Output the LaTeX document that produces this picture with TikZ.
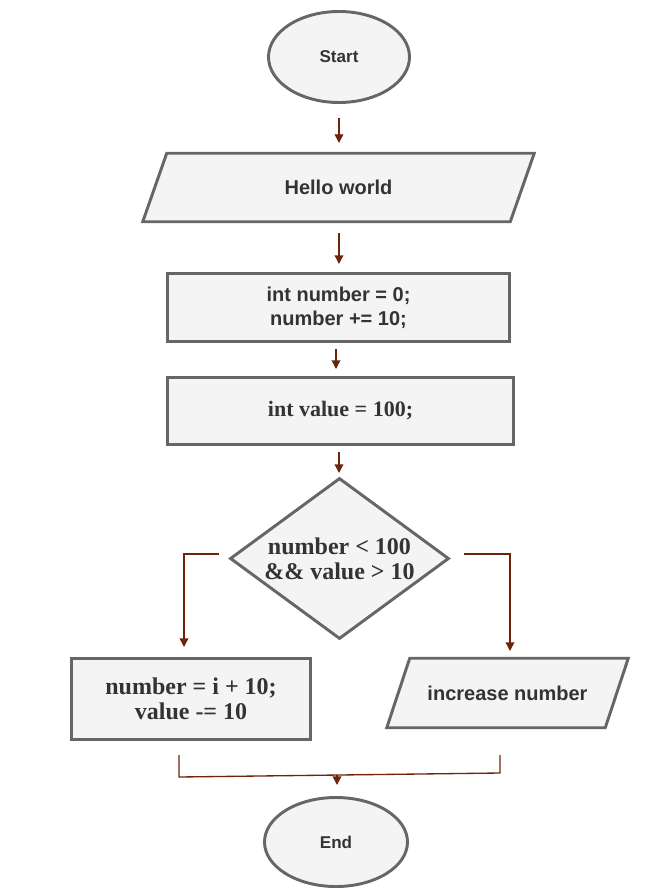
\documentclass[tikz,border=0pt]{standalone}
\usepackage{fontspec}
\setmainfont{Liberation Serif}
\newfontfamily\arialf{Liberation Sans}
\usetikzlibrary{shapes.geometric,arrows.meta,calc,backgrounds}
\definecolor{edgegray}{HTML}{666666}
\definecolor{boxfill}{HTML}{F4F4F4}
\definecolor{arrowred}{HTML}{6E2408}
\definecolor{txt}{HTML}{333333}
\newcommand\pxu{0.75pt}
\tikzset{
  shapebase/.style={draw=edgegray, line width=2.2pt, fill=boxfill, text=txt, inner sep=0pt, align=center},
  outline/.style={draw=edgegray, line width=2.2pt, fill=boxfill, line join=miter},
  terminal/.style={shapebase, ellipse, font=\arialf\bfseries\fontsize{12.8}{14}\selectfont},
  iotext/.style={text=txt, inner sep=0pt, align=center, rectangle, font=\arialf\bfseries\fontsize{15}{18}\selectfont},
  procbox/.style={shapebase, rectangle},
  sansbox/.style={font=\arialf\bfseries\fontsize{15}{18}\selectfont},
  serifbox/.style={font=\bfseries\fontsize{16.5}{18}\selectfont},
  bigserif/.style={font=\bfseries\fontsize{18}{18.5}\selectfont},
  decision/.style={shapebase, diamond, bigserif},
  flow/.style={draw=arrowred, line width=1pt, -{Triangle[length=6.5pt,width=6.5pt]}},
  flowline/.style={draw=arrowred, line width=1pt},
}
\begin{document}
\begin{tikzpicture}[x=0.75pt,y=-0.75pt]
\useasboundingbox (0,0) rectangle (658,895);

\node[terminal, minimum width=141*\pxu, minimum height=91*\pxu] (start) at (339,57) {Start};
\node[iotext, minimum width=367*\pxu, minimum height=68*\pxu] (hello) at (338.5,187.5) {Hello world};
\node[procbox, sansbox, minimum width=342*\pxu, minimum height=68*\pxu] (init) at (338.5,307.5) {int number = 0;\\number += 10;};
\node[procbox, serifbox, minimum width=346*\pxu, minimum height=67*\pxu] (val) at (340.5,411) {int value = 100;};
\node[decision, minimum width=219*\pxu, minimum height=161*\pxu, aspect=1.36] (cond) at (339.5,558.5) {number < 100\\\&\& value > 10};
\node[procbox, bigserif, minimum width=239*\pxu, minimum height=81*\pxu] (upd) at (191,699) {number = i + 10;\\value -= 10};
\node[iotext, minimum width=218*\pxu, minimum height=69*\pxu] (inc) at (507.5,693) {increase number};
\node[terminal, minimum width=143*\pxu, minimum height=89*\pxu] (end) at (336,842) {End};

% parallelogram outlines behind the input/output texts
\begin{scope}[on background layer]
  \draw[outline] ($(hello.north west)+(12,0)$) -- ($(hello.north east)+(12,0)$)
    -- ($(hello.south east)+(-12,0)$) -- ($(hello.south west)+(-12,0)$) -- cycle;
  \draw[outline] ($(inc.north west)+(11.5,0)$) -- ($(inc.north east)+(11.5,0)$)
    -- ($(inc.south east)+(-11.5,0)$) -- ($(inc.south west)+(-11.5,0)$) -- cycle;
\end{scope}

% connector end points (connectors stop short of the shapes)
\coordinate (a1s) at (339,118); \coordinate (a1e) at (339,143);
\coordinate (a2s) at (339,233); \coordinate (a2e) at (339,264);
\coordinate (a3s) at (336,349); \coordinate (a3e) at (336,369);
\coordinate (a4s) at (339,452); \coordinate (a4e) at (339,473);
\coordinate (ls) at (219,554); \coordinate (lc) at (184,554); \coordinate (le) at (184,647);
\coordinate (rs) at (464,554); \coordinate (rc) at (510,554); \coordinate (re) at (510,651);
\coordinate (bl) at (179,755); \coordinate (blc) at (179,777);
\coordinate (br) at (500,755); \coordinate (brc) at (500,773);
\coordinate (bm) at (337,775); \coordinate (bme) at (337,785);

\draw[flow] (a1s) -- (a1e);
\draw[flow] (a2s) -- (a2e);
\draw[flow] (a3s) -- (a3e);
\draw[flow] (a4s) -- (a4e);
\draw[flow] (ls) -- (lc) -- (le);
\draw[flow] (rs) -- (rc) -- (re);
\draw[flowline] (bl) -- (blc) -- (brc) -- (br);
\draw[flow] (bm) -- (bme);
\end{tikzpicture}
\end{document}
